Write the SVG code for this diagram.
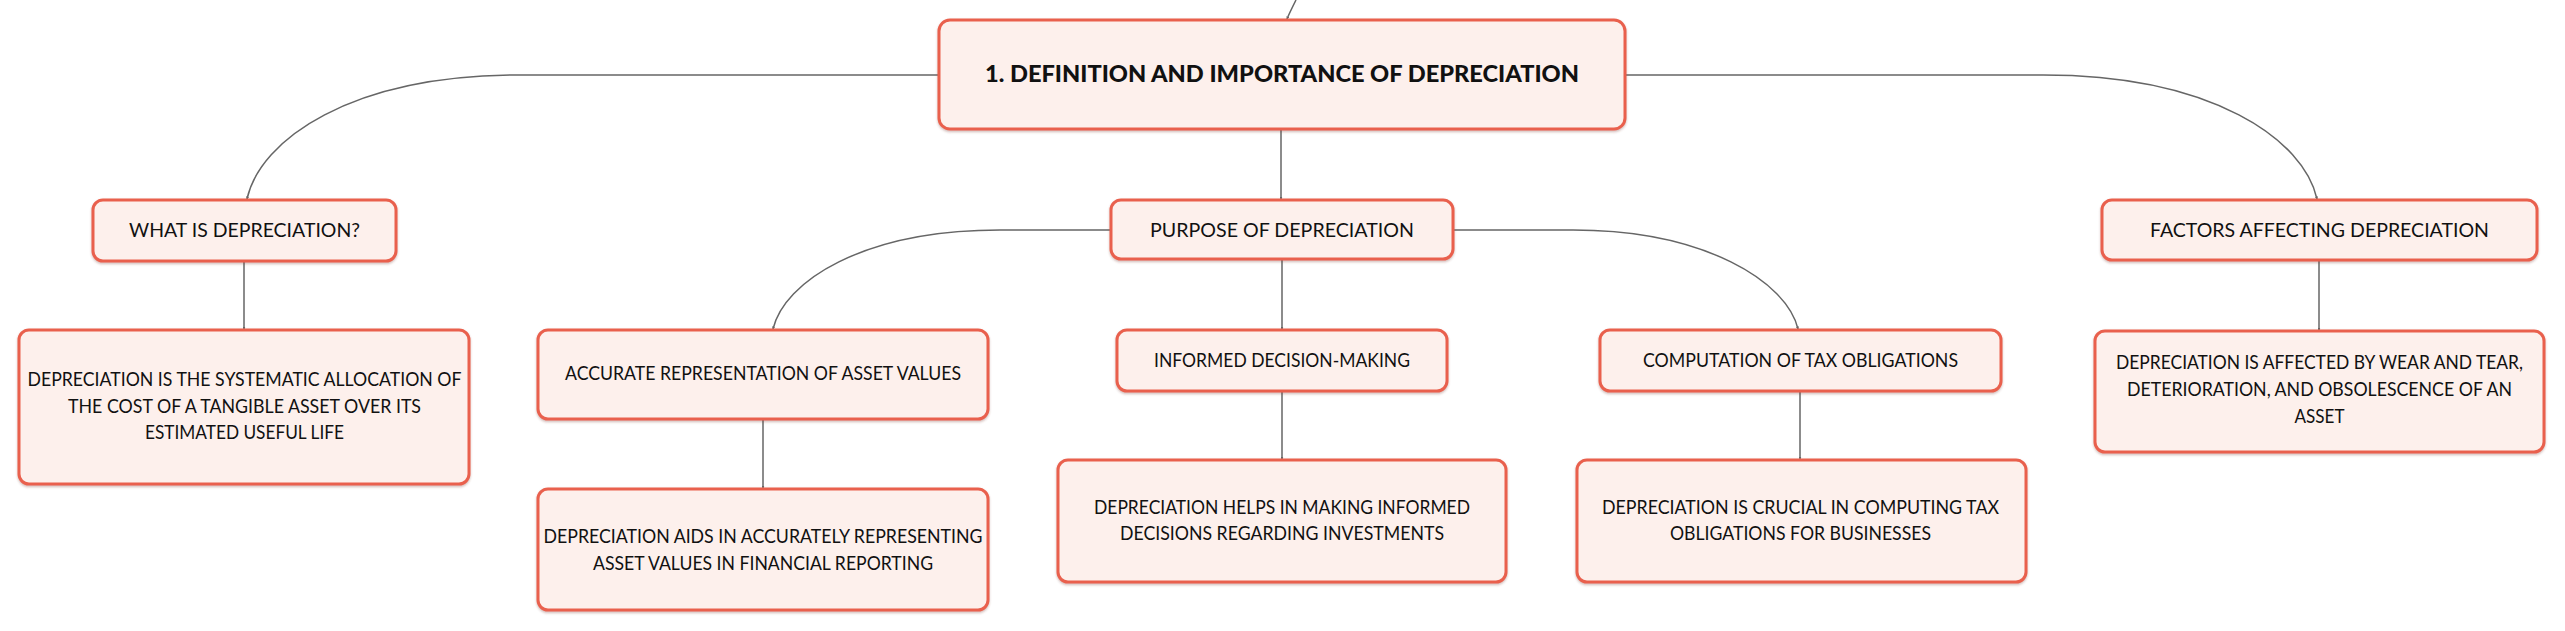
<svg xmlns="http://www.w3.org/2000/svg" width="2565" height="631" viewBox="0 0 2565 631">
  <style>
    .box { fill: #fdf0ec; stroke: #e9604d; stroke-width: 3; filter: url(#sh); }
    .lbl { font-family: Lato, "Open Sans", "Liberation Sans", sans-serif; font-size: 19px; fill: #111; text-anchor: middle; }
    .dsc { font-family: Lato, "Open Sans", "Liberation Sans", sans-serif; font-size: 18.5px; fill: #111; text-anchor: middle; }
    .root { font-family: Lato, "Open Sans", "Liberation Sans", sans-serif; font-size: 23px; font-weight: 900; fill: #111; text-anchor: middle; }
    .con { fill: none; stroke: #666; stroke-width: 1.5; marker-end: url(#ah); }
  </style>
  <defs>
    <filter id="sh" x="-5%" y="-10%" width="110%" height="130%">
      <feDropShadow dx="0" dy="1.5" stdDeviation="1" flood-color="#7a3a30" flood-opacity="0.35"/>
    </filter>
    <marker id="ah" viewBox="0 0 6 6" refX="5" refY="3" markerWidth="3" markerHeight="3" markerUnits="userSpaceOnUse" orient="auto">
      <path d="M0,0 L6,3 L0,6 z" fill="#666"/>
    </marker>
  </defs>
  <rect width="2565" height="631" fill="#ffffff"/>

  <g id="connectors">
    <path class="con" d="M 1296 0 C 1292 8 1289 14 1287 19"/>
    <path class="con" d="M 938 75 L 520 75 C 350 75 260 140 247 199"/>
    <path class="con" d="M 1626 75 L 2043 75 C 2213 75 2304 140 2317 199"/>
    <path class="con" d="M 1281 130 L 1281 199"/>
    <path class="con" d="M 244 262 L 244 329"/>
    <path class="con" d="M 1110 230 L 1000 230 C 862 230 784 282 773 329"/>
    <path class="con" d="M 1454 230 L 1573 230 C 1705 230 1787 282 1798 329"/>
    <path class="con" d="M 1282 260 L 1282 329"/>
    <path class="con" d="M 763 420 L 763 488"/>
    <path class="con" d="M 1282 392 L 1282 459"/>
    <path class="con" d="M 1800 392 L 1800 459"/>
    <path class="con" d="M 2319 261 L 2319 330"/>
  </g>

  <g id="node-root">
    <rect class="box" x="939" y="20" width="686" height="109" rx="11"/>
    <text class="root" x="1282" y="82" textLength="594" lengthAdjust="spacingAndGlyphs">1. DEFINITION AND IMPORTANCE OF DEPRECIATION</text>
  </g>

  <g id="node-what">
    <rect class="box" x="93" y="200" width="303" height="61" rx="10"/>
    <text class="lbl" x="244.5" y="237" textLength="231" lengthAdjust="spacingAndGlyphs">WHAT IS DEPRECIATION?</text>
  </g>
  <g id="node-what-desc">
    <rect class="box" x="19" y="330" width="450" height="154" rx="10"/>
    <text class="dsc" x="244.5" y="386" textLength="434" lengthAdjust="spacingAndGlyphs">DEPRECIATION IS THE SYSTEMATIC ALLOCATION OF</text>
    <text class="dsc" x="244.5" y="413" textLength="353" lengthAdjust="spacingAndGlyphs">THE COST OF A TANGIBLE ASSET OVER ITS</text>
    <text class="dsc" x="244.5" y="439" textLength="199" lengthAdjust="spacingAndGlyphs">ESTIMATED USEFUL LIFE</text>
  </g>

  <g id="node-purpose">
    <rect class="box" x="1111" y="200" width="342" height="59" rx="10"/>
    <text class="lbl" x="1282" y="237" textLength="264" lengthAdjust="spacingAndGlyphs">PURPOSE OF DEPRECIATION</text>
  </g>

  <g id="node-accurate">
    <rect class="box" x="538" y="330" width="450" height="89" rx="10"/>
    <text class="lbl" x="763" y="380" textLength="396" lengthAdjust="spacingAndGlyphs">ACCURATE REPRESENTATION OF ASSET VALUES</text>
  </g>
  <g id="node-accurate-desc">
    <rect class="box" x="538" y="489" width="450" height="121" rx="10"/>
    <text class="dsc" x="763" y="543" textLength="439" lengthAdjust="spacingAndGlyphs">DEPRECIATION AIDS IN ACCURATELY REPRESENTING</text>
    <text class="dsc" x="763" y="570" textLength="340" lengthAdjust="spacingAndGlyphs">ASSET VALUES IN FINANCIAL REPORTING</text>
  </g>

  <g id="node-informed">
    <rect class="box" x="1117" y="330" width="330" height="61" rx="10"/>
    <text class="lbl" x="1282" y="367" textLength="256" lengthAdjust="spacingAndGlyphs">INFORMED DECISION-MAKING</text>
  </g>
  <g id="node-informed-desc">
    <rect class="box" x="1058" y="460" width="448" height="122" rx="10"/>
    <text class="dsc" x="1282" y="514" textLength="376" lengthAdjust="spacingAndGlyphs">DEPRECIATION HELPS IN MAKING INFORMED</text>
    <text class="dsc" x="1282" y="540" textLength="324" lengthAdjust="spacingAndGlyphs">DECISIONS REGARDING INVESTMENTS</text>
  </g>

  <g id="node-computation">
    <rect class="box" x="1600" y="330" width="401" height="61" rx="10"/>
    <text class="lbl" x="1800.5" y="367" textLength="315" lengthAdjust="spacingAndGlyphs">COMPUTATION OF TAX OBLIGATIONS</text>
  </g>
  <g id="node-computation-desc">
    <rect class="box" x="1577" y="460" width="449" height="122" rx="10"/>
    <text class="dsc" x="1800.5" y="514" textLength="397" lengthAdjust="spacingAndGlyphs">DEPRECIATION IS CRUCIAL IN COMPUTING TAX</text>
    <text class="dsc" x="1800.5" y="540" textLength="261" lengthAdjust="spacingAndGlyphs">OBLIGATIONS FOR BUSINESSES</text>
  </g>

  <g id="node-factors">
    <rect class="box" x="2102" y="200" width="435" height="60" rx="10"/>
    <text class="lbl" x="2319.5" y="237" textLength="339" lengthAdjust="spacingAndGlyphs">FACTORS AFFECTING DEPRECIATION</text>
  </g>
  <g id="node-factors-desc">
    <rect class="box" x="2095" y="331" width="449" height="121" rx="10"/>
    <text class="dsc" x="2319.5" y="369" textLength="407" lengthAdjust="spacingAndGlyphs">DEPRECIATION IS AFFECTED BY WEAR AND TEAR,</text>
    <text class="dsc" x="2319.5" y="396" textLength="385" lengthAdjust="spacingAndGlyphs">DETERIORATION, AND OBSOLESCENCE OF AN</text>
    <text class="dsc" x="2319.5" y="423" textLength="50" lengthAdjust="spacingAndGlyphs">ASSET</text>
  </g>
</svg>
